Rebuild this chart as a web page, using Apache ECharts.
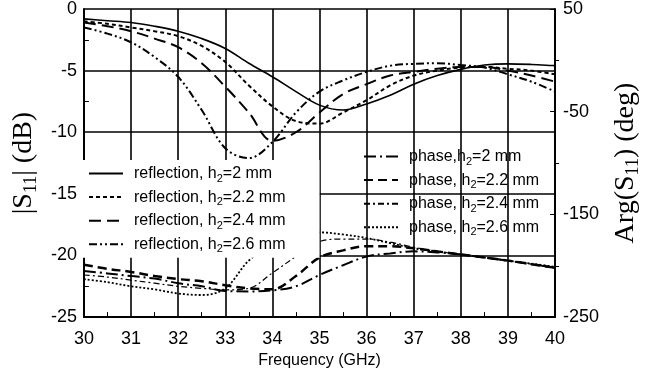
<!DOCTYPE html>
<html><head><meta charset="utf-8">
<script src="https://cdn.jsdelivr.net/npm/echarts@6/dist/echarts.min.js"></script>
<style>html,body{margin:0;padding:0;background:#fff}#c{width:650px;height:374px}</style>
</head><body><div id="c"></div>
<script>
const freq = [30,30.5,31,31.5,32,32.5,33,33.5,34,34.5,35,35.5,36,36.5,37,37.5,38,38.5,39,39.5,40];
const xTicks = [30,31,32,33,34,35,36,37,38,39,40];
const leftTicks = [0,-5,-10,-15,-20,-25];
const rightTicks = [50,-50,-150,-250];

const refl_20 = [-0.8,-0.95,-1.1,-1.4,-1.8,-2.4,-3.2,-4.4,-5.5,-6.7,-7.8,-8.2,-7.7,-7.0,-6.1,-5.4,-4.9,-4.55,-4.45,-4.5,-4.6];
const refl_22 = [-1.0,-1.2,-1.5,-1.8,-2.2,-3.0,-4.3,-6.2,-7.9,-9.1,-9.3,-8.4,-7.4,-6.2,-5.4,-5.0,-4.75,-4.7,-4.85,-5.0,-5.3];
const refl_24 = [-1.1,-1.4,-1.8,-2.4,-3.1,-4.4,-6.3,-8.4,-10.7,-10.0,-8.4,-6.9,-6.1,-5.4,-5.1,-4.85,-4.7,-4.7,-5.0,-5.4,-5.9];
const refl_26 = [-1.5,-2.0,-2.7,-3.9,-5.5,-8.2,-11.3,-12.1,-10.8,-8.4,-6.7,-5.8,-5.1,-4.6,-4.45,-4.4,-4.55,-4.75,-5.3,-5.9,-6.7];

const phase_20 = [-205,-207.5,-210,-212.5,-217,-220,-224.5,-225,-224,-220,-209,-199.5,-191,-188,-186,-187,-189,-192,-195,-198.5,-202];
const phase_22 = [-199,-203,-206,-210,-213,-215,-219,-222,-223,-210,-192,-185,-181,-181,-183,-186,-189,-192,-195,-198.5,-202];
const phase_24 = [-209,-211,-214,-217,-220,-222,-223.5,-222,-207,-191,-176.5,-174,-174,-177,-182,-186,-189,-192,-195,-198.5,-202];
const phase_26 = [-213,-216,-220,-223,-227,-228.5,-222,-195,-180,-172,-167.5,-169.5,-173,-178,-183,-186,-189,-192,-195,-198,-201];

const reflNames = ['reflection, h_2=2 mm','reflection, h_2=2.2 mm','reflection, h_2=2.4 mm','reflection, h_2=2.6 mm'];
const phaseNames = ['phase,h_2=2 mm','phase, h_2=2.2 mm','phase, h_2=2.4 mm','phase, h_2=2.6 mm'];

const pairs = arr => freq.map((f,i)=>[f,arr[i]]);
function mk(name, arr, yIdx, type, width){
  return {name, type:'line', yAxisIndex:yIdx, data:pairs(arr), symbol:'none', smooth:0.35,
    itemStyle:{color:'#000'}, lineStyle:{color:'#000', width, type, cap:'butt'}, z:2};
}
const series = [
  mk(reflNames[0], refl_20, 0, 'solid', 1.6),
  mk(reflNames[1], refl_22, 0, [4,3], 2),
  mk(reflNames[2], refl_24, 0, [12,6], 2),
  mk(reflNames[3], refl_26, 0, [8,3,2,3,2,3], 2),
  mk(phaseNames[0], phase_20, 1, [12,4,2,4], 2),
  mk(phaseNames[1], phase_22, 1, [9,5], 2.5),
  mk(phaseNames[2], phase_24, 1, [6,3,2,3], 1.2),
  mk(phaseNames[3], phase_26, 1, [2,2], 1.8),
];
const font = 'Liberation Sans, Arial, sans-serif';
const serif = 'Liberation Serif, Times New Roman, serif';
const legRich = {
  t:{fontSize:16, fontFamily:font, color:'#000', lineHeight:18},
  sub:{fontSize:11, fontFamily:font, color:'#000', lineHeight:10, padding:[10,0,0,0]}
};
function fmt(n){
  const p = n.split('h_2');
  return '{t|'+p[0]+'h}{sub|2}{t|'+p[1]+'}';
}
const chart = echarts.init(document.getElementById('c'), null, {renderer:'canvas'});
chart.setOption({
  animation:false,
  backgroundColor:'#fff',
  grid:{left:77, top:9, width:488, height:310},
  legend:[
    {data:reflNames, orient:'vertical', left:78, top:160, itemWidth:34, itemHeight:14, itemGap:2.6,
     itemStyle:{opacity:0},
     backgroundColor:'#fff', padding:[3,34,3,10], formatter:fmt, textStyle:{rich:legRich, padding:[0,0,0,6]}, selectedMode:false, z:10},
    {data:phaseNames, orient:'vertical', left:363, top:146, itemWidth:34, itemHeight:14, itemGap:2.6,
     itemStyle:{opacity:0},
     padding:0, formatter:fmt, textStyle:{rich:legRich, padding:[0,0,0,6]}, selectedMode:false, z:10}
  ],
  xAxis:{type:'value', min:30, max:40, interval:1,
    name:'Frequency (GHz)', nameLocation:'middle', nameGap:30,
    nameTextStyle:{fontSize:16, fontFamily:font, color:'#000'},
    axisLine:{show:true, onZero:false, lineStyle:{color:'#000', width:2}},
    axisTick:{show:false},
    minorTick:{show:true, splitNumber:2, length:-5, lineStyle:{color:'#000', width:1}},
    splitLine:{show:true, lineStyle:{color:'#000', width:1.6}},
    axisLabel:{fontSize:18, fontFamily:font, color:'#000', margin:13,
      formatter:v=>xTicks.includes(v)?String(v):''}
  },
  yAxis:[
    {type:'value', min:-25, max:0, interval:5, position:'left',
     name:'|S{sub|11}| (dB)', nameLocation:'middle', nameGap:40, nameRotate:90,
     nameTextStyle:{rich:{t:{fontSize:28, fontFamily:serif, color:'#000', lineHeight:30},
        sub:{fontSize:18, fontFamily:serif, color:'#000', lineHeight:18, padding:[14,0,0,0]}},
        fontSize:28, fontFamily:serif, color:'#000'},
     axisLine:{show:true, onZero:false, lineStyle:{color:'#000', width:2}},
     axisTick:{show:false},
     minorTick:{show:true, splitNumber:2, length:-5, lineStyle:{color:'#000', width:1}},
     splitLine:{show:true, lineStyle:{color:'#000', width:1.6}},
     axisLabel:{fontSize:18, fontFamily:font, color:'#000', margin:7,
       formatter:v=>leftTicks.includes(v)?String(v):''}
    },
    {type:'value', min:-250, max:50, interval:100, position:'right',
     name:'Arg(S{sub|11}) (deg)', nameLocation:'middle', nameGap:55, nameRotate:90,
     nameTextStyle:{rich:{t:{fontSize:28, fontFamily:serif, color:'#000', lineHeight:30},
        sub:{fontSize:18, fontFamily:serif, color:'#000', lineHeight:18, padding:[14,0,0,0]}},
        fontSize:28, fontFamily:serif, color:'#000'},
     axisLine:{show:true, onZero:false, lineStyle:{color:'#000', width:2}},
     axisTick:{show:true, inside:true, length:5, lineStyle:{color:'#000', width:1}},
     minorTick:{show:true, splitNumber:2, length:-4, lineStyle:{color:'#000', width:1}},
     splitLine:{show:false},
     axisLabel:{fontSize:18, fontFamily:font, color:'#000', margin:8,
       formatter:v=>rightTicks.includes(v)?String(v):''}
    }
  ],
  series
});
</script></body></html>
